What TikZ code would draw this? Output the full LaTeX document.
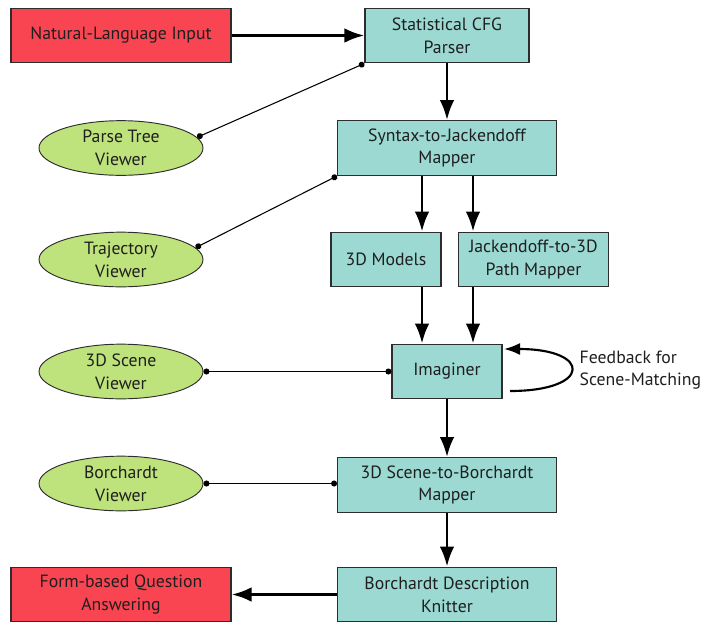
\documentclass[tikz,border=0pt]{standalone}
\usepackage{fontspec}
\setmainfont{PT Sans}
\usetikzlibrary{arrows.meta,positioning,shapes.geometric}

\definecolor{inputred}{RGB}{249,68,82}
\definecolor{moduleteal}{RGB}{155,217,210}
\definecolor{viewergreen}{RGB}{190,226,124}
\definecolor{edgegray}{RGB}{45,45,45}

\begin{document}
\begin{tikzpicture}[x=0.75pt,y=-0.75pt,
    every node/.style={font=\fontsize{13.3}{17}\selectfont,text=black!88,align=center},
    module/.style={draw=edgegray,line width=0.9pt,fill=moduleteal,inner sep=0pt,minimum height=41pt},
    io/.style={draw=edgegray,line width=0.9pt,fill=inputred,inner sep=0pt,minimum width=165pt,minimum height=41pt},
    viewer/.style={ellipse,draw=edgegray,line width=0.7pt,fill=viewergreen,inner sep=0pt,minimum width=123pt,minimum height=41pt},
    flow/.style={line width=2.2pt,-{Latex[length=15pt,width=11pt]}},
    link/.style={line width=0.8pt,{Circle[length=4.5pt]}-{Circle[length=4.5pt]}}]
    \useasboundingbox (0,0) rectangle (711,622);

    \node[io] (nlinput) at (121,35.5) {Natural-Language Input};
    \node[module,minimum width=123pt] (cfgparser) at (447,35.5) {Statistical CFG\\Parser};
    \node[module,minimum width=164pt] (synjack) at (447,148) {Syntax-to-Jackendoff\\Mapper};
    \node[module,minimum width=82.5pt] (models) at (386,259.5) {3D Models};
    \node[module,minimum width=113pt] (pathmap) at (533.5,259.5) {Jackendoff-to-3D\\Path Mapper};
    \node[module,minimum width=82.5pt] (imaginer) at (447,371.5) {Imaginer};
    \node[module,minimum width=164pt] (scenebor) at (447,485) {3D Scene-to-Borchardt\\Mapper};
    \node[module,minimum width=164pt] (knitter) at (447,594.5) {Borchardt Description\\Knitter};
    \node[io] (qanswer) at (121,594.5) {Form-based Question\\Answering};

    \node[viewer] (ptviewer) at (121,148) {Parse Tree\\Viewer};
    \node[viewer] (trviewer) at (121,259.5) {Trajectory\\Viewer};
    \node[viewer] (scviewer) at (121,371.5) {3D Scene\\Viewer};
    \node[viewer] (boviewer) at (121,483.5) {Borchardt\\Viewer};

    \node[anchor=west,align=left] (fblabel) at (575,370) {Feedback for\\Scene-Matching};
    \coordinate (fbstart) at (510,391);
    \coordinate (fbend) at (504,349);

    \draw[flow] (nlinput) -- (cfgparser);
    \draw[flow] (cfgparser) -- (synjack);
    \draw[flow] (synjack.south -| 422,0) -- (models.north -| 422,0);
    \draw[flow] (synjack.south -| 473,0) -- (pathmap.north -| 473,0);
    \draw[flow] (models.south -| 422,0) -- (imaginer.north -| 422,0);
    \draw[flow] (pathmap.south -| 473,0) -- (imaginer.north -| 473,0);
    \draw[flow] (imaginer) -- (scenebor);
    \draw[flow] (scenebor) -- (knitter);
    \draw[flow] (knitter) -- (qanswer);
    \draw[line width=1.6pt,-{Latex[length=12pt,width=9pt]}] (fbstart) .. controls (592,391) and (592,349) .. (fbend);

    \draw[link] (ptviewer.8) -- (cfgparser.south west);
    \draw[link] (trviewer.9) -- (synjack.south west);
    \draw[link] (scviewer) -- (imaginer);
    \draw[link] (boviewer) -- (scenebor.west |- boviewer);
\end{tikzpicture}
\end{document}
